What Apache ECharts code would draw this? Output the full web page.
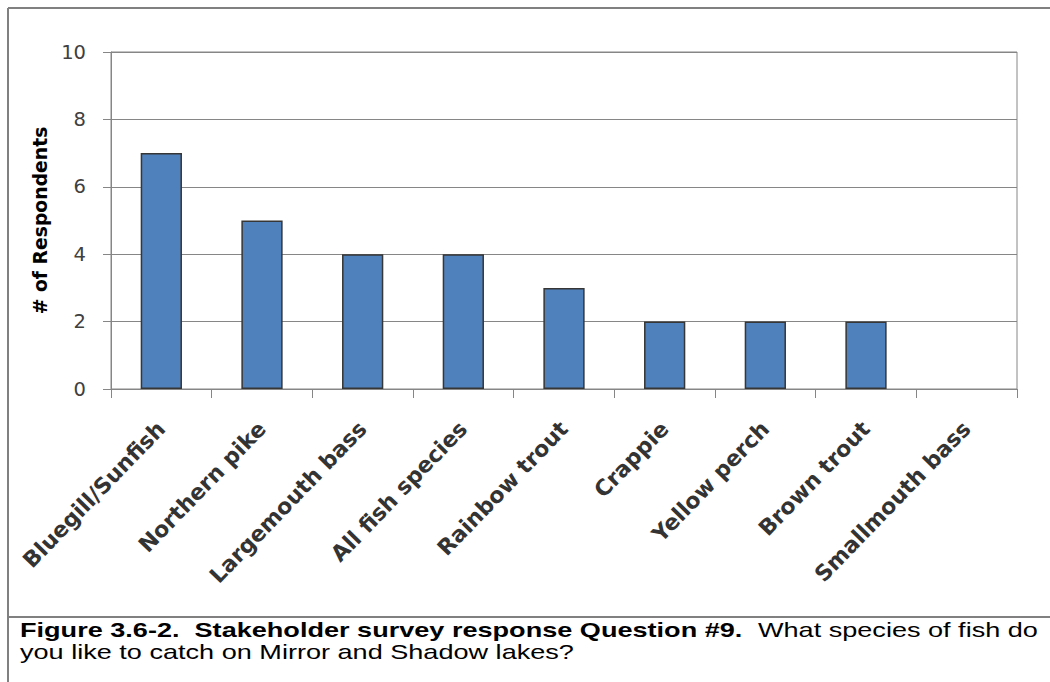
<!DOCTYPE html>
<html>
<head>
<meta charset="utf-8">
<script src="https://cdn.jsdelivr.net/npm/echarts@6/dist/echarts.min.js"></script>
<style>
  html, body { margin: 0; padding: 0; background: #fff; }
  #chart { width: 1050px; height: 682px; }
</style>
</head>
<body>
<div id="chart"></div>
<script>
// Survey responses: preferred fish species to catch
const categories = [
  'Bluegill/Sunfish', 'Northern pike', 'Largemouth bass', 'All fish species',
  'Rainbow trout', 'Crappie', 'Yellow perch', 'Brown trout', 'Smallmouth bass'
];
const respondents = [7, 5, 4, 4, 3, 2, 2, 2, 0];
const yTicks = { min: 0, max: 10, interval: 2 };

const captionBold = 'Figure 3.6-2.  Stakeholder survey response Question #9.';
const captionRest = '  What species of fish do';
const captionLine2 = 'you like to catch on Mirror and Shadow lakes?';

const chart = echarts.init(document.getElementById('chart'), null, { renderer: 'svg' });

const frameColor = '#808080';
const gridColor = '#868686';
const labelFont = '"DejaVu Sans", Verdana, sans-serif';
const captionFont = '"Liberation Sans", Arial, sans-serif';

// zero-height bars get no outline so nothing sits on the baseline
const barData = respondents.map(v => (v === 0 ? { value: v, itemStyle: { borderWidth: 0 } } : v));

chart.setOption({
  animation: false,
  backgroundColor: '#ffffff',
  grid: {
    left: 111, right: 33, top: 52, bottom: 293,
    show: true, borderColor: gridColor, borderWidth: 1,
    containLabel: false
  },
  xAxis: {
    type: 'category',
    data: categories,
    boundaryGap: true,
    axisLine: { lineStyle: { color: gridColor, width: 1 } },
    axisTick: { show: true, alignWithLabel: false, length: 9, lineStyle: { color: gridColor } },
    axisLabel: {
      interval: 0,
      rotate: 46,
      margin: 36,
      color: '#333333',
      fontFamily: labelFont,
      fontWeight: 'bold',
      fontSize: 22
    }
  },
  yAxis: {
    type: 'value',
    min: yTicks.min, max: yTicks.max, interval: yTicks.interval,
    name: '# of Respondents',
    nameLocation: 'middle',
    nameRotate: 90,
    nameGap: 58,
    nameTextStyle: { color: '#000', fontFamily: labelFont, fontWeight: 'bold', fontSize: 18.8 },
    axisLine: { show: true, lineStyle: { color: gridColor, width: 1 } },
    axisTick: { show: true, length: 8, lineStyle: { color: gridColor } },
    axisLabel: { margin: 25, color: '#404040', fontFamily: labelFont, fontSize: 19.5 },
    splitLine: { show: true, lineStyle: { color: gridColor, width: 1 } }
  },
  series: [{
    type: 'bar',
    data: barData,
    barWidth: '41%',
    itemStyle: { color: '#4F81BD', borderColor: '#363636', borderWidth: 1.5 }
  }],
  graphic: [
    // outer frame and caption separator
    { type: 'line', shape: { x1: 8, y1: 8, x2: 1050, y2: 8 }, style: { stroke: frameColor, lineWidth: 2 } },
    { type: 'line', shape: { x1: 8, y1: 8, x2: 8, y2: 682 }, style: { stroke: frameColor, lineWidth: 2 } },
    { type: 'line', shape: { x1: 8, y1: 617, x2: 1050, y2: 617 }, style: { stroke: frameColor, lineWidth: 2 } },
    // caption, set in a widened Arial face
    {
      type: 'text', x: 20, y: 630, scaleX: 1.355,
      style: {
        x: 0, y: 0,
        text: '{b|' + captionBold + '}{n|' + captionRest + '}',
        verticalAlign: 'middle',
        rich: {
          b: { fontFamily: captionFont, fontWeight: 'bold', fontSize: 20, fill: '#000' },
          n: { fontFamily: captionFont, fontSize: 20, fill: '#000' }
        }
      }
    },
    {
      type: 'text', x: 20, y: 652, scaleX: 1.355,
      style: {
        x: 0, y: 0,
        text: captionLine2,
        verticalAlign: 'middle',
        fontFamily: captionFont, fontSize: 20, fill: '#000'
      }
    }
  ]
});
</script>
</body>
</html>
